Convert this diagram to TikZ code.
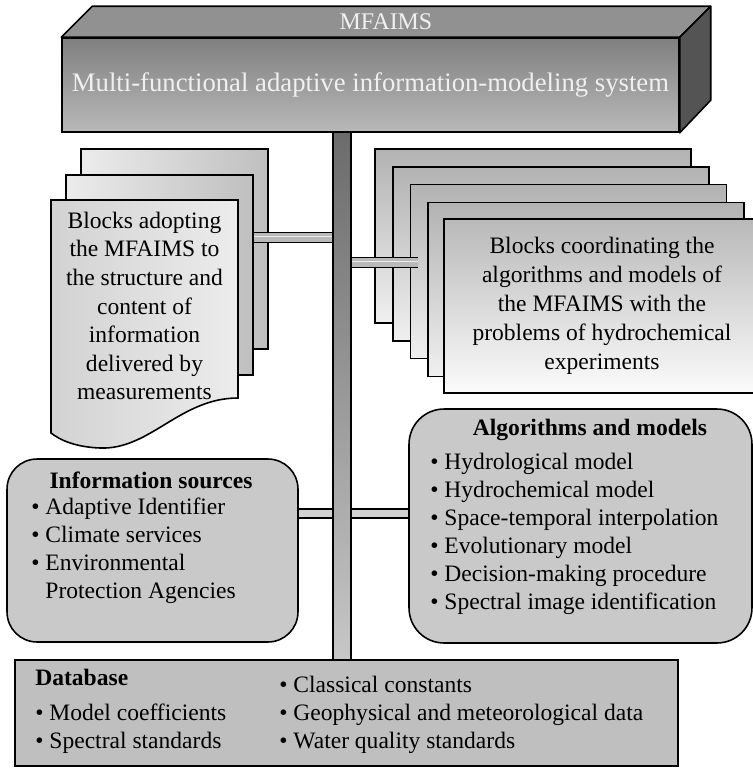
\documentclass[tikz,border=0pt]{standalone}
\usepackage{fontspec}
\setmainfont{Liberation Serif}
\usetikzlibrary{calc,positioning}
\definecolor{bardark}{gray}{0.42}
\definecolor{barlight}{gray}{0.78}
\definecolor{frontgray}{gray}{0.50}
\definecolor{topgray}{gray}{0.57}
\definecolor{sidegray}{gray}{0.33}
\definecolor{boxgray}{gray}{0.79}
\definecolor{dbgray}{gray}{0.75}
\tikzstyle{lpage} = [rectangle, draw=black, line width=0.9pt, left color=gray!15, right color=gray!50, minimum width=3.74cm, minimum height=4cm]
\tikzstyle{rpage} = [rectangle, draw=black, line width=0.9pt, top color=gray!60, bottom color=gray!12, minimum width=6.32cm, minimum height=3.48cm]
\tikzstyle{panel} = [rectangle, rounded corners=0.6cm, draw=black, line width=0.9pt, fill=boxgray]
\tikzstyle{rod} = [draw=black, line width=0.8pt, double=gray!55, double distance=4.6pt]
\tikzstyle{flatrod} = [draw=black, line width=0.8pt, double=gray!35, double distance=4.3pt]
\tikzstyle{txt} = [inner sep=0pt, font=\fontsize{13.4}{16}\selectfont]
\tikzstyle{list} = [txt, align=left, anchor=west]
\tikzstyle{head} = [txt, font=\fontsize{13.4}{16}\selectfont\bfseries]

\begin{document}
\begin{tikzpicture}[x=0.02cm, y=-0.02cm]
		\path[use as bounding box] (0,0) rectangle (753,768);
		\clip (0,0) rectangle (753,768);
		% central bar
		\node (vbar) [rectangle, draw=black, line width=0.9pt, top color=bardark, bottom color=barlight, minimum width=0.36cm, minimum height=10.56cm, inner sep=0pt] at (342,396) {};
		% MFAIMS block
		\node (mfaims) [rectangle, draw=black, line width=0.9pt, top color=frontgray, bottom color=gray!55, minimum width=12.34cm, minimum height=1.88cm, text=white!94!black, font=\fontsize{15.2}{18}\selectfont] at (370.5,85) {Multi-functional adaptive information-modeling system};
		\draw [line width=0.9pt, fill=topgray, line join=round] (mfaims.north west) -- ++(31,-31) -- ($(mfaims.north east)+(31,-31)$) -- (mfaims.north east) -- cycle;
		\draw [line width=0.9pt, fill=sidegray, line join=round] (mfaims.north east) -- ++(31,-31) -- ++(0,94) -- (mfaims.south east) -- cycle;
		\node (mtitle) [txt, text=white!94!black, font=\fontsize{13.6}{16}\selectfont] at ($(mfaims.north)+(15.5,-15.5)$) {MFAIMS};
		% left pages
		\node (lp3) [lpage] at (174.5,249) {};
		\node (lp2) [lpage] at (159.5,275) {};
		\draw [line width=0.9pt, left color=gray!35, right color=gray!15] (51,200) -- (238,200) -- (238,398) .. controls (180,398) and (150,450) .. (100,448) .. controls (75,447) and (60,440) .. (51,433) -- cycle;
		\node (ltext) [txt, align=center, font=\fontsize{13.4}{16.3}\selectfont] at (144.5,306) {Blocks adopting\\ the MFAIMS to\\ the structure and\\ content of\\ information\\ delivered by\\ measurements};
		% right pages
		\foreach \i in {0,...,3}
			\node (rp\i) [rpage] at ({533+17.75*\i},{236+17.8*\i}) {};
		\node (rp4) [rpage, top color=gray!55, bottom color=gray!3, align=center, font=\fontsize{13.4}{16.6}\selectfont] at (602,306) {Blocks coordinating the\\ algorithms and models of\\ the MFAIMS with the\\ problems of hydrochemical\\ experiments};
		% rods to the bar
		\coordinate (lhook) at (0,237.5);
		\coordinate (rhook) at (0,262.5);
		\coordinate (rend) at (418,262.5);
		\draw [rod] (lp2.east |- lhook) -- (vbar.west |- lhook);
		\draw [gray!15, line width=1pt] ($(lp2.east |- lhook)+(0,-1)$) -- ($(vbar.west |- lhook)+(0,-1)$);
		\draw [rod] (vbar.east |- rhook) -- (rend);
		\draw [gray!15, line width=1pt] ($(vbar.east |- rhook)+(0,-1)$) -- ($(rend)+(0,-1)$);
		% panels
		\node (info) [panel, minimum width=5.82cm, minimum height=3.66cm] at (152.5,550.5) {};
		\node (algo) [panel, rounded corners=0.7cm, minimum width=6.86cm, minimum height=4.68cm] at (580.5,526) {};
		\coordinate (mhook) at (0,513.5);
		\draw [flatrod] (info.east |- mhook) -- (vbar.west |- mhook);
		\draw [flatrod] (vbar.east |- mhook) -- (algo.west |- mhook);
		\node (infohead) [head] at (151,480) {Information sources};
		\node (infolist) [list] at (31,551) {\textbullet\ Adaptive Identifier\\ \textbullet\ Climate services\\ \textbullet\ Environmental\\ \phantom{\textbullet\ }Protection Agencies};
		\node (algohead) [head] at (590,430) {Algorithms and models};
		\node (algolist) [list] at (430,534) {\textbullet\ Hydrological model\\ \textbullet\ Hydrochemical model\\ \textbullet\ Space-temporal interpolation\\ \textbullet\ Evolutionary model\\ \textbullet\ Decision-making procedure\\ \textbullet\ Spectral image identification};
		% database
		\node (db) [rectangle, draw=black, line width=0.9pt, fill=dbgray, minimum width=13.26cm, minimum height=2.12cm] at (346.5,713) {};
		\node (dbhead) [head, anchor=west] at (35,677) {Database};
		\node (dblist1) [list] at (35,728.5) {\textbullet\ Model coefficients\\ \textbullet\ Spectral standards};
		\node (dblist2) [list] at (279,714.5) {\textbullet\ Classical constants\\ \textbullet\ Geophysical and meteorological data\\ \textbullet\ Water quality standards};
	\end{tikzpicture}
\end{document}
